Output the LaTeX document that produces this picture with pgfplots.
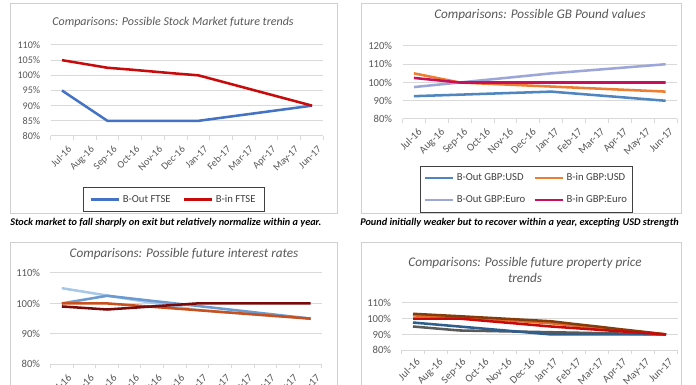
\documentclass[border=0pt]{standalone}
\usepackage{fontspec}
\setmainfont{Carlito}
\usepackage{pgfplots}
\pgfplotsset{compat=1.18}
\definecolor{gridc}{HTML}{D9D9D9}
\definecolor{boxc}{HTML}{D0D0D0}
\definecolor{tickc}{HTML}{595959}
\definecolor{legc}{HTML}{404040}
\definecolor{cBlue}{HTML}{4472C4}
\definecolor{cRed}{HTML}{C80A0A}
\definecolor{cSteel}{HTML}{4F86C0}
\definecolor{cOrange}{HTML}{ED7D31}
\definecolor{cLav}{HTML}{9CA6D8}
\definecolor{cCrim}{HTML}{C8105A}
\definecolor{cLightB}{HTML}{A9C8E8}
\definecolor{cMedB}{HTML}{6A9AD0}
\definecolor{cMaroon}{HTML}{7A0A0A}
\definecolor{cOrRed}{HTML}{C9501C}
\definecolor{cBrown}{HTML}{843C0C}
\definecolor{cOr2}{HTML}{E46C2A}
\definecolor{cDBlue}{HTML}{2E5E8E}
\definecolor{cGray}{HTML}{5A5A5A}
\newcommand\tickA{\fontsize{7.6pt}{9pt}\selectfont}
\newcommand\tickB{\fontsize{8pt}{9pt}\selectfont}
\newcommand\legfont{\fontsize{8pt}{9pt}\selectfont}
\newcommand\titleA{\fontsize{9pt}{10pt}\selectfont\itshape}
\newcommand\titleB{\fontsize{9.9pt}{11pt}\selectfont\itshape}
\newcommand\capfont{\fontsize{7.7pt}{9pt}\selectfont\bfseries\itshape}
\pgfplotsset{
  excel/.style={
    scale only axis,
    axis x line*=bottom, axis y line*=left,
    x axis line style={draw=gridc, line width=0.75pt},
    y axis line style={draw=none},
    ymajorgrids, grid style={draw=gridc, line width=0.75pt},
    xmin=-0.5, xmax=11.5,
    xtick={0,...,11},
    xticklabels={Jul-16,Aug-16,Sep-16,Oct-16,Nov-16,Dec-16,Jan-17,Feb-17,Mar-17,Apr-17,May-17,Jun-17},
    major x tick style={draw=none},
    minor xtick={-0.5,0.5,...,11.5},
    minor x tick style={draw=gridc, line width=0.75pt},
    minor tick length=3pt,
    tick align=outside,
    ytick style={draw=none},
    xticklabel style={rotate=45, anchor=north east, inner sep=1pt, text=tickc},
    yticklabel style={text=tickc},
    every axis plot/.append style={line width=1.9pt, no markers, line join=round},
    legend image code/.code={\draw[#1, line width=1.9pt] (0pt,0pt) -- (21pt,0pt);},
    legend cell align=left,
    clip=false,
  }
}
\begin{document}
\begin{tikzpicture}[x=0.75pt,y=0.75pt]
\useasboundingbox (0,0) rectangle (696,385);
\clip (0,0) rectangle (696,385);
\fill[white] (0,0) rectangle (696,385);
% panel boxes
\draw[boxc, line width=0.75pt] (10,381) rectangle (337,171);
\draw[boxc, line width=0.75pt] (361,381) rectangle (681,171);
\draw[boxc, line width=0.75pt] (10,142) rectangle (337,-20);
\draw[boxc, line width=0.75pt] (361,142) rectangle (681,-20);
% titles
\node[font=\titleA, text=tickc] at (173,363) {Comparisons: Possible Stock Market future trends};
\node[font=\titleB, text=tickc] at (540,370) {Comparisons: Possible GB Pound values};
\node[font=\titleB, text=tickc] at (184,131) {Comparisons: Possible future interest rates};
\node[font=\titleB, text=tickc] at (525,122) {Comparisons: Possible future property price};
\node[font=\titleB, text=tickc] at (525,107) {trends};
% captions
\node[font=\capfont, anchor=west, inner sep=0pt] at (10,162) {Stock market to fall sharply on exit but relatively normalize within a year.};
\node[font=\capfont, anchor=west, inner sep=0pt] at (360,162) {Pound initially weaker but to recover within a year, excepting USD strength};

% Panel 1
\begin{axis}[excel, at={(37.95pt,186.75pt)}, anchor=south west, width=204.6pt, height=68.25pt,
  ymin=80, ymax=110, ytick={80,85,...,110},
  yticklabels={80\%,85\%,90\%,95\%,100\%,105\%,110\%},
  xticklabel style={font=\tickA, xshift=2pt, yshift=-3.5pt},
  yticklabel style={font=\tickA},
  legend style={at={(0.452,-0.7)}, anchor=center, draw=black!75, line width=0.6pt, fill=white, font=\legfont, text=legc, legend columns=2, /tikz/every even column/.append style={column sep=7pt}, inner xsep=4.5pt, inner ysep=3.5pt}]
\addplot[cBlue] coordinates {(0,95)(1,90)(2,85)(3,85)(4,85)(5,85)(6,85)(7,86)(8,87)(9,88)(10,89)(11,90)};
\addplot[cRed] coordinates {(0,105)(1,103.75)(2,102.5)(3,101.9)(4,101.25)(5,100.6)(6,100)(7,98)(8,96)(9,94)(10,92)(11,90)};
\legend{B-Out FTSE,B-in FTSE}
\end{axis}

% Panel 2
\begin{axis}[excel, at={(301.875pt,199.5pt)}, anchor=south west, width=205.9pt, height=54.75pt,
  ymin=80, ymax=120, ytick={80,90,...,120},
  yticklabels={80\%,90\%,100\%,110\%,120\%},
  xticklabel style={font=\tickB, xshift=1.5pt, yshift=-2pt},
  yticklabel style={font=\tickB},
  legend style={at={(0.452,-0.96)}, anchor=center, draw=black!75, line width=0.6pt, fill=white, font=\legfont, text=legc, legend columns=2, /tikz/every even column/.append style={column sep=4pt}, inner xsep=2pt, inner ysep=3.5pt, row sep=5.5pt}]
\addplot[cSteel] coordinates {(0,92.5)(1,92.92)(2,93.33)(3,93.75)(4,94.17)(5,94.58)(6,95)(7,94)(8,93)(9,92)(10,91)(11,90)};
\addplot[cOrange] coordinates {(0,105)(1,102.5)(2,100)(3,99.44)(4,98.89)(5,98.33)(6,97.78)(7,97.22)(8,96.67)(9,96.11)(10,95.56)(11,95)};
\addplot[cLav] coordinates {(0,97.5)(1,98.75)(2,100)(3,101.25)(4,102.5)(5,103.75)(6,105)(7,106)(8,107)(9,108)(10,109)(11,110)};
\addplot[cCrim] coordinates {(0,102.5)(1,101.25)(2,100)(3,100)(4,100)(5,100)(6,100)(7,100)(8,100)(9,100)(10,100)(11,100)};
\legend{B-Out GBP:USD,B-in GBP:USD,B-Out GBP:Euro,B-in GBP:Euro}
\end{axis}

% Panel 3
\begin{axis}[excel, at={(37.875pt,15.525pt)}, anchor=south west, width=203.6pt, height=68.5pt,
  ymin=80, ymax=110, ytick={80,90,100,110},
  yticklabels={80\%,90\%,100\%,110\%},
  xticklabel style={font=\tickB, xshift=2pt, yshift=-3.5pt},
  yticklabel style={font=\tickB}]
\addplot[cLightB] coordinates {(0,105)(1,103.8)(2,102.6)(3,101.4)(4,100.2)(5,99)(6,97.8)(7,97.2)(8,96.7)(9,96.1)(10,95.6)(11,95)};
\addplot[cMedB] coordinates {(0,100)(1,101.25)(2,102.5)(3,101.67)(4,100.83)(5,100)(6,99.17)(7,98.33)(8,97.5)(9,96.67)(10,95.83)(11,95)};
\addplot[cOrRed] coordinates {(0,100)(1,100)(2,100)(3,99.44)(4,98.89)(5,98.33)(6,97.78)(7,97.22)(8,96.67)(9,96.11)(10,95.56)(11,95)};
\addplot[cMaroon] coordinates {(0,99)(1,98.5)(2,98)(3,98.5)(4,99)(5,99.5)(6,100)(7,100)(8,100)(9,100)(10,100)(11,100)};
\end{axis}

% Panel 4
\begin{axis}[excel, at={(301.125pt,26.025pt)}, anchor=south west, width=207pt, height=35.7pt,
  ymin=80, ymax=110, ytick={80,90,100,110},
  yticklabels={80\%,90\%,100\%,110\%},
  xticklabel style={font=\tickB, xshift=1.5pt, yshift=-1pt},
  yticklabel style={font=\tickB}]
\addplot[cGray] coordinates {(0,95)(1,93.75)(2,92.5)(3,92.22)(4,91.94)(5,91.67)(6,91.39)(7,91.11)(8,90.83)(9,90.56)(10,90.28)(11,90)};
\addplot[cDBlue] coordinates {(0,97.5)(1,96.25)(2,95)(3,93.75)(4,92.5)(5,91.25)(6,90)(7,90)(8,90)(9,90)(10,90)(11,90)};
\addplot[cOr2] coordinates {(0,102)(1,101.5)(2,101)(3,100)(4,99)(5,98)(6,97)(7,95.6)(8,94.2)(9,92.8)(10,91.4)(11,90)};
\addplot[cBrown] coordinates {(0,103)(1,102.25)(2,101.5)(3,100.7)(4,99.9)(5,99.1)(6,98.3)(7,96.6)(8,95)(9,93.3)(10,91.7)(11,90)};
\addplot[cRed] coordinates {(0,100)(1,100)(2,100)(3,98.75)(4,97.5)(5,96.25)(6,95)(7,94)(8,93)(9,92)(10,91)(11,90)};
\end{axis}
\end{tikzpicture}
\end{document}
